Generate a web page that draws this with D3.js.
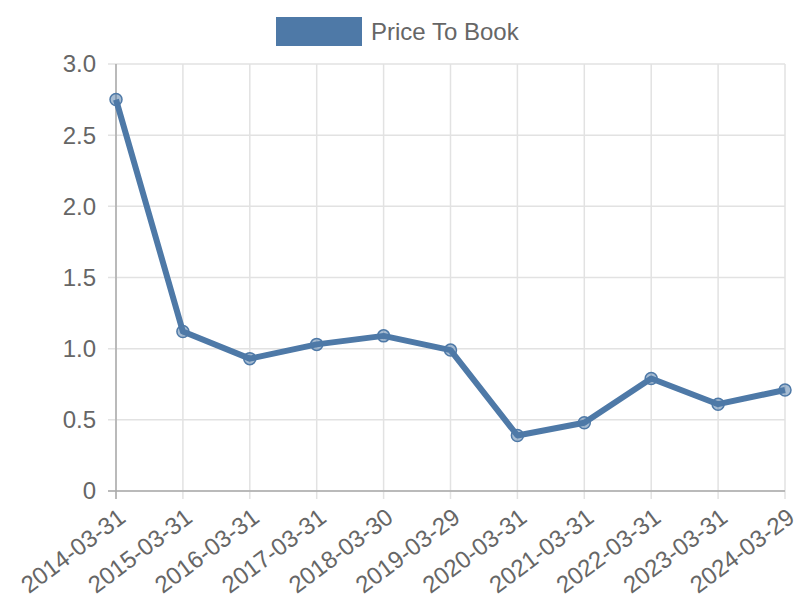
<!DOCTYPE html>
<html><head><meta charset="utf-8">
<script src="https://cdn.jsdelivr.net/npm/d3@7"></script>
<style>body{margin:0;background:#fff;} text{font-family:"Liberation Sans",Arial,sans-serif;}</style>
</head><body><svg id="c" width="800" height="600"></svg>
<script>
const categories = ["2014-03-31","2015-03-31","2016-03-31","2017-03-31","2018-03-30","2019-03-29","2020-03-31","2021-03-31","2022-03-31","2023-03-31","2024-03-29"];
const values = [2.75,1.12,0.93,1.03,1.09,0.99,0.39,0.48,0.79,0.61,0.71];
const yTicks = [0,0.5,1.0,1.5,2.0,2.5,3.0];
const seriesName = "Price To Book";
const color = "#4e79a7";

const svg = d3.select("#c");
const L=116,R=785,T=64,B=491;
const x = d3.scalePoint().domain(categories).range([L,R]);
const y = d3.scaleLinear().domain([0,3]).range([B,T]);

const g = svg.append("g");
g.selectAll("line.v").data(categories).enter().append("line")
 .attr("x1",d=>x(d)).attr("x2",d=>x(d)).attr("y1",T).attr("y2",B+8)
 .attr("stroke","#e2e2e2").attr("stroke-width",1.5);
g.selectAll("line.h").data(yTicks).enter().append("line")
 .attr("x1",L-8).attr("x2",R).attr("y1",d=>y(d)).attr("y2",d=>y(d))
 .attr("stroke","#e2e2e2").attr("stroke-width",1.5);
svg.append("line").attr("x1",L).attr("x2",L).attr("y1",T).attr("y2",B+8).attr("stroke","#aaa").attr("stroke-width",1.5);
svg.append("line").attr("x1",L-8).attr("x2",R).attr("y1",B).attr("y2",B).attr("stroke","#aaa").attr("stroke-width",1.5);

svg.selectAll("text.yl").data(yTicks).enter().append("text")
 .attr("x",L-20).attr("y",d=>y(d)).attr("dy","0.35em").attr("text-anchor","end")
 .attr("font-size",24).attr("fill","#666").text(d=>d===0?"0":d.toFixed(1));
svg.selectAll("text.xl").data(categories).enter().append("text")
 .attr("transform",d=>`translate(${x(d)+1},${B+16}) rotate(-37)`)
 .attr("text-anchor","end").attr("dy","0.7em")
 .attr("font-size",24).attr("fill","#666").text(d=>d);

svg.append("path").datum(values)
 .attr("d",d3.line().x((d,i)=>x(categories[i])).y(d=>y(d)))
 .attr("fill","none").attr("stroke",color).attr("stroke-width",6).attr("stroke-linejoin","round");
svg.selectAll("circle").data(values).enter().append("circle")
 .attr("cx",(d,i)=>x(categories[i])).attr("cy",d=>y(d)).attr("r",6)
 .attr("fill","rgba(78,121,167,0.5)").attr("stroke",color).attr("stroke-width",1.5);

svg.append("rect").attr("x",276).attr("y",17).attr("width",86).attr("height",29).attr("fill",color);
svg.append("text").attr("x",371).attr("y",40).attr("font-size",24).attr("fill","#666").text(seriesName);
</script></body></html>
